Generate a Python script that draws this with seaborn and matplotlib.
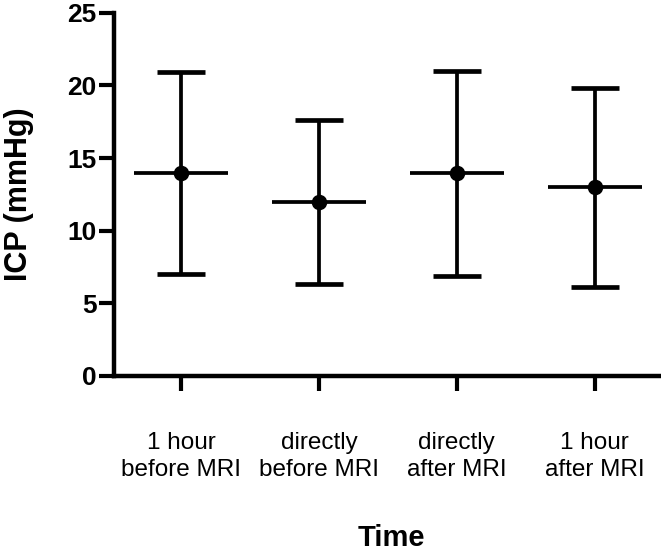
import numpy as np
import pandas as pd
import matplotlib
matplotlib.use("Agg")
import matplotlib.pyplot as plt
import seaborn as sns

categories = ["1 hour\nbefore MRI", "directly\nbefore MRI", "directly\nafter MRI", "1 hour\nafter MRI"]
means = [14.0, 12.0, 14.0, 13.0]
lower = [7.0, 6.3, 6.9, 6.1]
upper = [20.9, 17.6, 21.0, 19.8]
y_ticks = [0, 5, 10, 15, 20, 25]

sns.set_theme(style="ticks")
plt.rcParams["font.family"] = ["Liberation Sans", "DejaVu Sans"]
plt.rcParams["text.color"] = "black"
plt.rcParams["axes.labelcolor"] = "black"
plt.rcParams["xtick.color"] = "black"
plt.rcParams["ytick.color"] = "black"

df = pd.DataFrame({"pos": np.arange(len(categories)), "time": categories,
                   "mean": means, "lo": lower, "hi": upper})

fig = plt.figure(figsize=(6.61, 5.57), dpi=100)
ax = fig.add_axes([0.1725, 0.325, 0.84, 0.652])

lw = 2.7
ax.errorbar(df["pos"], df["mean"],
            yerr=[df["mean"] - df["lo"], df["hi"] - df["mean"]],
            fmt="none", ecolor="black", elinewidth=lw, capsize=17, capthick=lw * 1.25, zorder=2)
ax.hlines(df["mean"], df["pos"] - 0.34, df["pos"] + 0.34, colors="black", linewidth=lw, zorder=2)
sns.scatterplot(data=df, x="pos", y="mean", color="black", s=125, edgecolor="black",
                linewidth=0, zorder=3, ax=ax, legend=False)

ax.set_xlim(-0.485, 3.54)
ax.set_ylim(0, 25)
ax.set_yticks(y_ticks)
ax.set_yticklabels([str(t) for t in y_ticks], fontsize=19, fontweight="bold")
ax.set_xticks(df["pos"])
ax.set_xticklabels(categories, fontsize=17.5, linespacing=1.3)
ax.tick_params(axis="y", length=11, width=3, pad=1.5, color="black", labelcolor="black")
ax.tick_params(axis="x", length=11, width=3, pad=29, color="black", labelcolor="black")

for side in ["top", "right"]:
    ax.spines[side].set_visible(False)
for side in ["left", "bottom"]:
    ax.spines[side].set_linewidth(3.2)
    ax.spines[side].set_color("black")

ax.set_xlabel("Time", fontsize=21, fontweight="bold", labelpad=31, color="black")
ax.set_ylabel("ICP (mmHg)", fontsize=22, fontweight="bold", labelpad=24, color="black")

fig.savefig("out.png", dpi=100)
